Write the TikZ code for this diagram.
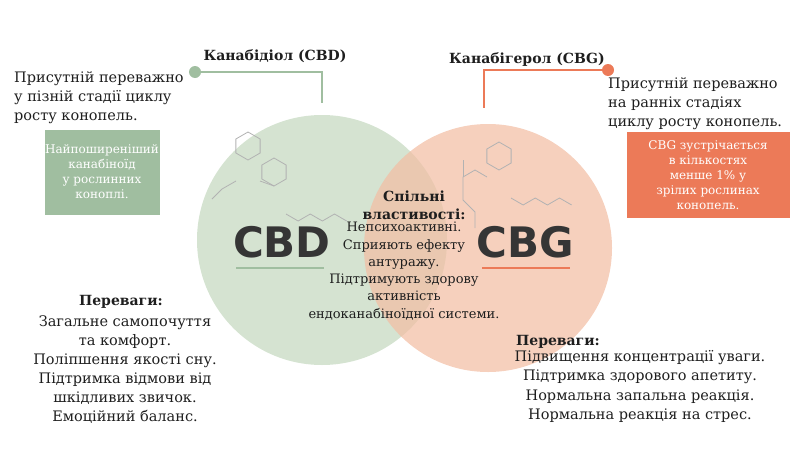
\documentclass[tikz,border=0pt]{standalone}
\usepackage{fontspec}
\setmainfont{DejaVu Serif}
\setsansfont{DejaVu Sans}
\usetikzlibrary{positioning}
\definecolor{cbdgreen}{RGB}{160,190,160}
\definecolor{cbdlight}{RGB}{208,224,204}
\definecolor{cbgorange}{RGB}{236,122,88}
\definecolor{cbglight}{RGB}{242,190,164}
\definecolor{ink}{RGB}{30,30,30}
\tikzset{
  txt/.style={font=\fontsize{14.5}{19}\selectfont, text=ink, inner sep=0pt},
  head/.style={txt, font=\fontsize{14}{18}\selectfont\bfseries},
  infobox/.style={txt, text=white, align=center, font=\fontsize{12}{15}\selectfont},
  molec/.style={gray!60, line width=0.8pt},
  big/.style={font=\sffamily\bfseries\fontsize{42}{42}\selectfont, text=ink!90}
}
\begin{document}
\begin{tikzpicture}[x=1pt,y=-1pt]
\useasboundingbox (0,0) rectangle (800,450);
% Kreise
\fill[cbdlight, fill opacity=0.9] (322,240) circle (125);
\fill[cbglight, fill opacity=0.72] (488,248) circle (124);

% Verbindungslinien
\coordinate (cbddot) at (195,72);
\coordinate (cbdtop) at (322,103);
\coordinate (cbgdot) at (608,70);
\coordinate (cbgtop) at (484,108);
\draw[cbdgreen, line width=2pt] (cbddot) -| (cbdtop);
\fill[cbdgreen] (cbddot) circle (6);
\draw[cbgorange, line width=2pt] (cbgdot) -| (cbgtop);
\fill[cbgorange] (cbgdot) circle (6);
\node[head] (cbdname) at (275,56) {Канабідіол (CBD)};
\node[head] (cbgname) at (527,60) {Канабігерол (CBG)};

% Moleküle (vereinfacht)
\draw[molec] (248,160) -- ++(-30:14) -- ++(-90:14) -- ++(-150:14) -- ++(150:14) -- ++(90:14) -- cycle;
\draw[molec] (274,186) -- ++(-30:14) -- ++(-90:14) -- ++(-150:14) -- ++(150:14) -- ++(90:14) -- cycle;
\draw[molec] (260,181) -- (274,186);
\draw[molec] (286,214) -- ++(30:14) -- ++(-30:14) -- ++(30:14) -- ++(-30:14) -- ++(30:14);
\draw[molec] (236,181) -- (222,189) -- (212,199);
\draw[molec] (499,170) -- ++(-30:14) -- ++(-90:14) -- ++(-150:14) -- ++(150:14) -- ++(90:14) -- cycle;
\draw[molec] (511,198) -- ++(30:14) -- ++(-30:14) -- ++(30:14) -- ++(-30:14) -- ++(30:14);
\draw[molec] (487,177) -- (475,170) -- (463,177) -- (463,200) -- (475,212) -- (475,228);
\draw[molec] (463,177) -- (463,160);

% große Schriftzüge
\node[big] (cbd) at (282,242) {CBD};
\node[big] (cbg) at (525,242) {CBG};
\draw[cbdgreen, line width=2pt] (236,268) -- (324,268);
\draw[cbgorange, line width=2pt] (482,268) -- (570,268);

% linke Seite
\node[txt, align=left, anchor=north west] (cbdinfo) at (14,71)
  {Присутній переважно\\у пізній стадії циклу\\росту конопель.};
\fill[cbdgreen] (45,130) rectangle (160,215);
\node[infobox] (cbdbox) at (102,172) {Найпоширеніший\\канабіноїд\\у рослинних\\коноплі.};

% rechte Seite
\node[txt, align=left, anchor=north west] (cbginfo) at (608,77)
  {Присутній переважно\\на ранніх стадіях\\циклу росту конопель.};
\fill[cbgorange] (627,132) rectangle (790,218);
\node[infobox] (cbgbox) at (708,175) {CBG зустрічається\\в кількостях\\менше 1\% у\\зрілих рослинах\\конопель.};

% Mitte
\node[head, align=center] (common) at (414,205) {Спільні\\властивості:};
\node[txt, align=center, anchor=north, font=\fontsize{13}{17.3}\selectfont] (commontxt) at (404,222)
  {Непсихоактивні.\\Сприяють ефекту\\антуражу.\\Підтримують здорову\\активність\\ендоканабіноїдної системи.};

% Vorteile
\node[head] (prosl) at (121,302) {Переваги:};
\node[txt, align=center, anchor=north, font=\fontsize{14.5}{19}\selectfont] (prosltxt) at (125,316)
  {Загальне самопочуття\\та комфорт.\\Поліпшення якості сну.\\Підтримка відмови від\\шкідливих звичок.\\Емоційний баланс.};
\node[head] (prosr) at (558,342) {Переваги:};
\node[txt, align=center, anchor=north, font=\fontsize{14.5}{19.5}\selectfont] (prosrtxt) at (640,350)
  {Підвищення концентрації уваги.\\Підтримка здорового апетиту.\\Нормальна запальна реакція.\\Нормальна реакція на стрес.};
\end{tikzpicture}
\end{document}
